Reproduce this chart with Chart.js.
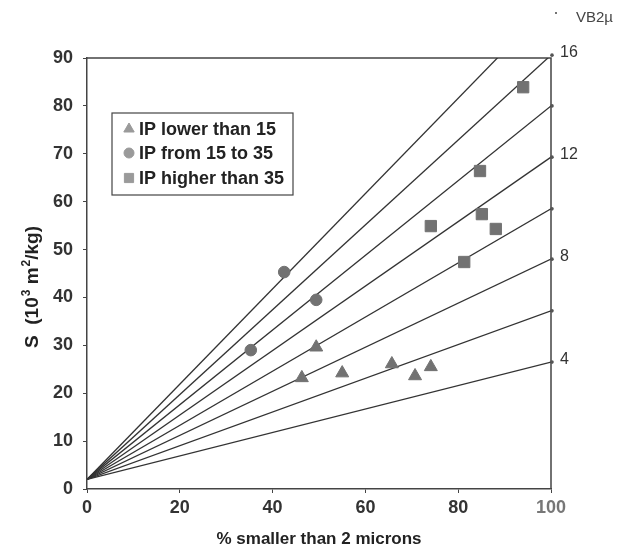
<!DOCTYPE html>
<html><head><meta charset="utf-8">
<script src="https://cdn.jsdelivr.net/npm/chart.js@4/dist/chart.umd.min.js"></script>
<style>html,body{margin:0;padding:0;background:#fff}#wrap{width:628px;height:554px;position:relative}</style>
</head><body><div id="wrap"><canvas id="c" width="628" height="554"></canvas></div>
<script>
// ---- data ----
const xTicks = [0, 20, 40, 60, 80, 100];
const yTicks = [0, 10, 20, 30, 40, 50, 60, 70, 80, 90];
const lineNames = [4, 6, 8, 10, 12, 14, 16, 18];          // VB2µ values of reference lines
const lineStartS = [2, 2, 2, 2, 2, 2, 2, 2];              // S at 0 %
const lineEndS = [26.5, 37.2, 48.0, 58.5, 69.3, 80.0, 90.6, 101.5]; // S at 100 %
const labeledLines = ['4', '8', '12', '16'];
const seriesNames = ['IP lower than 15', 'IP from 15 to 35', 'IP higher than 35'];
const lowX = [46.3, 49.4, 55.0, 65.7, 70.7, 74.1];
const lowY = [23.2, 29.6, 24.2, 26.1, 23.6, 25.5];
const midX = [35.3, 42.5, 49.4];
const midY = [29.0, 45.3, 39.5];
const highX = [74.1, 84.7, 85.1, 81.3, 88.1, 94.0];
const highY = [54.9, 66.4, 57.4, 47.4, 54.3, 83.9];
const xTitle = '% smaller than 2 microns';
// y title pieces: [text, isSuperscript]
const yTitleParts = [['S  (10', false], ['3', true], [' m', false], ['2', true], ['/kg)', false]];
const cornerLabel = 'VB2µ';

// ---- build ----
const pts = (xs, ys) => xs.map((x, i) => ({x: x, y: ys[i]}));
const lineSets = lineNames.map((n, i) => ({
  type: 'line', label: 'VB2µ ' + n,
  data: [{x: 0, y: lineStartS[i]}, {x: 100, y: lineEndS[i]}],
  borderColor: '#333', borderWidth: 1.3, pointRadius: 0, fill: false, tension: 0,
  order: 2
}));
const markerColor = '#727272';
const scatterSets = [
  {label: seriesNames[0], data: pts(lowX, lowY), pointStyle: 'triangle', pointRadius: 7.5},
  {label: seriesNames[1], data: pts(midX, midY), pointStyle: 'circle', pointRadius: 5.8},
  {label: seriesNames[2], data: pts(highX, highY), pointStyle: 'rect', pointRadius: 8}
].map(d => Object.assign(d, {type: 'scatter', backgroundColor: markerColor, borderColor: markerColor, borderWidth: 1, order: 1}));

const FONT = 'Liberation Sans, Arial, sans-serif';

const decor = {
  id: 'decor',
  beforeDatasetsDraw(chart) {
    const {ctx, chartArea: a} = chart;
    ctx.save();
    ctx.strokeStyle = '#444'; ctx.lineWidth = 1.5;
    ctx.beginPath();
    ctx.moveTo(a.left, a.top); ctx.lineTo(a.right, a.top); ctx.lineTo(a.right, a.bottom);
    ctx.stroke();
    ctx.restore();
  },
  afterDraw(chart) {
    const {ctx, chartArea: a, scales} = chart;
    const ys = scales.y;
    ctx.save();
    // y axis title (rotated, with superscripts)
    ctx.save();
    ctx.translate(31, 287);
    ctx.rotate(-Math.PI / 2);
    ctx.fillStyle = '#222';
    ctx.textBaseline = 'alphabetic';
    ctx.textAlign = 'left';
    const mainF = 'bold 19px ' + FONT, supF = 'bold 12px ' + FONT;
    let total = 0;
    yTitleParts.forEach(([t, sup]) => { ctx.font = sup ? supF : mainF; total += ctx.measureText(t).width + (sup ? 1 : 0); });
    let cx = -total / 2;
    yTitleParts.forEach(([t, sup]) => {
      ctx.font = sup ? supF : mainF;
      ctx.fillText(t, cx + (sup ? 1 : 0), sup ? -1 : 7);
      cx += ctx.measureText(t).width + (sup ? 1 : 0);
    });
    ctx.restore();
    // right-hand line labels and end marks
    ctx.font = '16px ' + FONT;
    ctx.textBaseline = 'middle';
    ctx.textAlign = 'left';
    lineNames.forEach((n, i) => {
      if (lineEndS[i] > ys.max + 1) return;
      const py = ys.getPixelForValue(lineEndS[i]);
      ctx.fillStyle = '#555';
      ctx.beginPath(); ctx.arc(a.right + 1, py, 1.8, 0, Math.PI * 2); ctx.fill();
      if (labeledLines.includes(String(n))) {
        ctx.fillStyle = '#333';
        ctx.fillText(String(n), a.right + 9, py - 3);
      }
    });
    // corner label
    ctx.font = '15px ' + FONT;
    ctx.fillStyle = '#444';
    ctx.fillText(cornerLabel, 576, 18);
    ctx.beginPath(); ctx.arc(556, 13, 1, 0, Math.PI * 2); ctx.fill();
    // legend box
    const bx = 112, by = 113, bw = 181, bh = 82;
    ctx.fillStyle = '#fff'; ctx.fillRect(bx, by, bw, bh);
    ctx.strokeStyle = '#444'; ctx.lineWidth = 1.2; ctx.strokeRect(bx, by, bw, bh);
    const rowY = [129, 153, 178];
    const styles = ['triangle', 'circle', 'rect'];
    const radii = [6, 5, 6.5];
    seriesNames.forEach((name, i) => {
      ctx.fillStyle = '#9a9a9a'; ctx.strokeStyle = '#9a9a9a'; ctx.lineWidth = 1;
      Chart.helpers.drawPoint(ctx, {pointStyle: styles[i], radius: radii[i], borderWidth: 1}, 129, rowY[i]);
      ctx.fillStyle = '#222';
      ctx.font = 'bold 18px ' + FONT;
      ctx.textAlign = 'left';
      ctx.fillText(name, 139, rowY[i] + 1);
    });
    ctx.restore();
  }
};

new Chart(document.getElementById('c'), {
  data: {datasets: lineSets.concat(scatterSets)},
  options: {
    responsive: false, animation: false,
    layout: {padding: {top: 58, right: 77, bottom: 4, left: 0}},
    plugins: {legend: {display: false}, tooltip: {enabled: false}},
    scales: {
      x: {
        type: 'linear', min: 0, max: 100,
        afterBuildTicks: s => { s.ticks = xTicks.map(v => ({value: v})); },
        afterFit: s => { s.height = 61; },
        grid: {drawOnChartArea: false, drawTicks: true, tickLength: 4, color: '#444'},
        border: {color: '#444', width: 1.5},
        ticks: {font: {family: FONT, weight: 'bold', size: 18}, color: c => c.tick && c.tick.value === 100 ? '#777' : '#333', padding: 4, maxRotation: 0},
        title: {display: true, text: xTitle, font: {family: FONT, weight: 'bold', size: 17}, color: '#222', padding: {top: 2, bottom: 0}}
      },
      y: {
        type: 'linear', min: 0, max: 90,
        afterBuildTicks: s => { s.ticks = yTicks.map(v => ({value: v})); },
        afterFit: s => { s.width = 87; },
        grid: {drawOnChartArea: false, drawTicks: true, tickLength: 4, color: '#444'},
        border: {color: '#444', width: 1.5},
        ticks: {font: {family: FONT, weight: 'bold', size: 18}, color: '#333', padding: 10},
        title: {display: false}
      }
    }
  },
  plugins: [decor]
});
</script>
</body></html>
